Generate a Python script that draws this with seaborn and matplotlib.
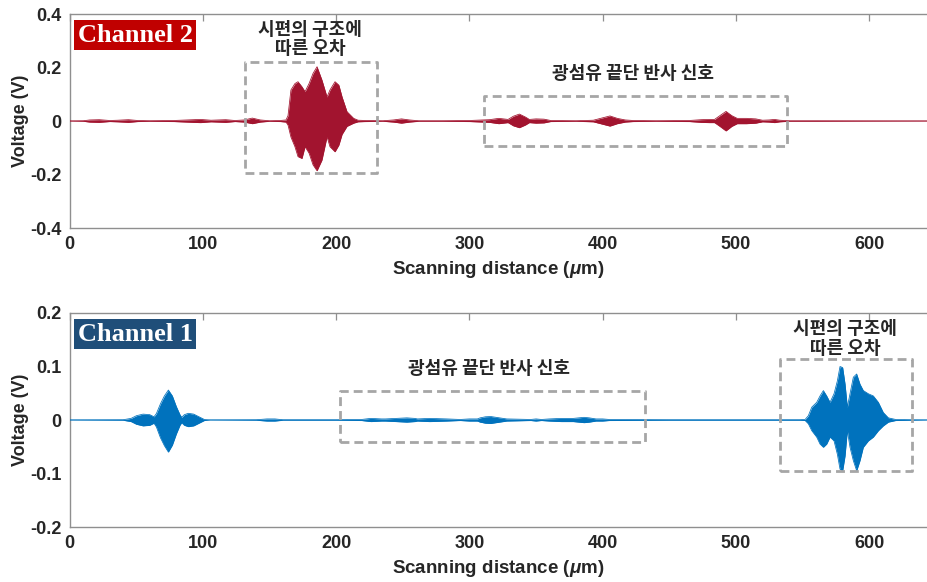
import matplotlib
matplotlib.use("Agg")
import matplotlib.pyplot as plt
from matplotlib.patches import Rectangle
import pandas as pd
import seaborn as sns

# ---------------- data: signal envelopes (V) vs scanning distance (um) ----------------
ch2_x = [0, 10, 15, 22, 30, 36, 44, 51, 60, 78, 88, 98, 106, 117, 124, 131, 137, 143, 150, 158,
         162.3, 163.8, 166.0, 169.0, 171.3, 174.3, 176.6, 179.6, 182.6, 185.6, 189.3, 193.1,
         195.3, 199.1, 202.0, 204.4, 208.1, 213.1, 216.4,
         222, 235, 243, 249, 255, 262, 280, 300, 315, 322, 329, 333, 337.5, 342, 345, 350, 356,
         361, 380, 393, 400, 405.5, 411, 417, 423, 440, 465, 474, 480, 484, 488, 492.6, 497, 501,
         508, 515, 520, 525, 529, 533, 540, 560, 600, 643.5]
ch2_upper = [0, 0.001, 0.004, 0.005, 0.002, 0.003, 0.005, 0.002, 0.001, 0.002, 0.004, 0.006,
             0.003, 0.005, 0.002, 0.004, 0.011, 0.004, 0.001, 0.002,
             0.004, 0.02, 0.116, 0.14, 0.147, 0.128, 0.11, 0.14, 0.178, 0.203, 0.153, 0.09,
             0.116, 0.147, 0.134, 0.09, 0.035, 0.01, 0.003,
             0.002, 0.001, 0.004, 0.008, 0.004, 0.001, 0.001, 0.002, 0.005, 0.01, 0.006, 0.018,
             0.026, 0.015, 0.006, 0.008, 0.007, 0.002, 0.001, 0.003, 0.012, 0.019, 0.01, 0.004,
             0.002, 0.001, 0.002, 0.005, 0.006, 0.006, 0.02, 0.036, 0.02, 0.01, 0.01, 0.008,
             0.003, 0.004, 0.006, 0.003, 0.001, 0.001, 0.0005, 0]
ch2_lower = [0, -0.001, -0.004, -0.005, -0.002, -0.003, -0.005, -0.002, -0.001, -0.002, -0.004,
             -0.006, -0.003, -0.005, -0.002, -0.004, -0.010, -0.004, -0.001, -0.002,
             -0.004, -0.015, -0.06, -0.096, -0.133, -0.14, -0.096, -0.12, -0.164, -0.186, -0.146,
             -0.059, -0.096, -0.115, -0.09, -0.05, -0.02, -0.008, -0.003,
             -0.002, -0.001, -0.004, -0.008, -0.004, -0.001, -0.001, -0.002, -0.005, -0.01,
             -0.006, -0.018, -0.025, -0.015, -0.006, -0.008, -0.007, -0.002, -0.001, -0.003,
             -0.012, -0.019, -0.01, -0.004, -0.002, -0.001, -0.002, -0.005, -0.006, -0.006,
             -0.02, -0.037, -0.02, -0.01, -0.01, -0.008, -0.003, -0.004, -0.006, -0.003, -0.001,
             -0.001, -0.0005, 0]

ch1_x = [0, 40, 46, 50, 55, 60, 63.2, 65, 68, 71, 74, 77, 80, 82.7, 84, 86, 89, 93, 97, 101,
         105, 140, 148, 154, 160, 200, 219, 226, 234, 237, 245, 253, 259, 261, 270, 283, 293,
         300, 306, 308, 312, 316, 320, 328, 346, 350, 354, 360, 369, 378, 382, 386, 390, 395,
         400, 405, 450, 548, 552, 554.4, 557, 560.7, 563.2, 565.7, 568.2, 570.7, 573.7, 576.2,
         578.2, 580.2, 582, 583.7, 585.7, 588.2, 590.7, 593.2, 595.7, 599.5, 603.2, 607, 610.7,
         614.5, 620, 643.5]
ch1_upper = [0, 0.0005, 0.003, 0.008, 0.011, 0.01, 0.006, 0.012, 0.03, 0.045, 0.056, 0.045,
             0.025, 0.01, 0.005, 0.01, 0.0125, 0.011, 0.006, 0.001,
             0, 0.0005, 0.002, 0.002, 0.0005, 0.0005, 0.001, 0.003, 0.002, 0.002, 0.003, 0.004,
             0.003, 0.002, 0.003, 0.002, 0.001,
             0.002, 0.002, 0.004, 0.006, 0.0065, 0.005, 0.002, 0.001, 0.002, 0.001, 0.002,
             0.003, 0.003, 0.004, 0.005, 0.004, 0.002,
             0.002, 0.001, 0.0005, 0.0005, 0.001, 0.008, 0.024, 0.033, 0.045, 0.055, 0.045,
             0.033, 0.049, 0.073, 0.10, 0.098, 0.067, 0.024, 0.049, 0.08, 0.086, 0.067, 0.055,
             0.049, 0.045, 0.033, 0.014, 0.004, 0.001, 0]
ch1_lower = [0, -0.0005, -0.003, -0.008, -0.011, -0.01, -0.006, -0.013, -0.033, -0.048, -0.06,
             -0.047, -0.026, -0.01, -0.005, -0.01, -0.0125, -0.011, -0.006, -0.001,
             0, -0.0005, -0.002, -0.002, -0.0005, -0.0005, -0.001, -0.003, -0.002, -0.002,
             -0.003, -0.004, -0.003, -0.002, -0.003, -0.002, -0.001,
             -0.002, -0.002, -0.004, -0.006, -0.0065, -0.005, -0.002, -0.001, -0.002, -0.001,
             -0.002, -0.003, -0.003, -0.004, -0.005, -0.004, -0.002,
             -0.002, -0.001, -0.0005, -0.0005, -0.001, -0.007, -0.02, -0.032, -0.045, -0.051,
             -0.045, -0.032, -0.039, -0.064, -0.092, -0.095, -0.067, -0.02, -0.051, -0.076,
             -0.095, -0.076, -0.051, -0.039, -0.032, -0.02, -0.011, -0.004, -0.001, 0]

ch2_yticks = [-0.4, -0.2, 0, 0.2, 0.4]
ch2_yticklabels = ["-0.4", "-0.2", "0", "0.2", "0.4"]
ch1_yticks = [-0.2, -0.1, 0, 0.1, 0.2]
ch1_yticklabels = ["-0.2", "-0.1", "0", "0.1", "0.2"]
x_ticks = [0, 100, 200, 300, 400, 500, 600]

# ---------------- style ----------------
sns.set_theme(style="white")
plt.rcParams["font.family"] = ["Liberation Sans", "Noto Sans CJK KR", "DejaVu Sans"]
plt.rcParams["font.weight"] = "bold"
plt.rcParams["axes.unicode_minus"] = False
plt.rcParams["mathtext.fontset"] = "custom"
plt.rcParams["mathtext.rm"] = "Liberation Sans:bold"
plt.rcParams["mathtext.it"] = "Liberation Sans:italic:bold"

TEXT = "#262626"
SPINE = "#8f8f8f"
BOX = "#a6a6a6"
RED = "#A2142F"
BLUE = "#0072BD"
KR = ["Noto Sans CJK KR", "DejaVu Sans"]

fig = plt.figure(figsize=(9.27, 5.82), dpi=100)
ax2 = fig.add_axes([0.0753, 0.6082, 0.9247, 0.3677])
ax1 = fig.add_axes([0.0753, 0.0945, 0.9247, 0.3677])


def draw_channel(ax, xs, up, lo, color, yticks, ylabels):
    df = pd.DataFrame({"x": xs, "upper": up, "lower": lo})
    ax.fill_between(df["x"], df["lower"], df["upper"], color=color, lw=0, zorder=3)
    sns.lineplot(data=df, x="x", y="upper", ax=ax, color=color, lw=0.55,
                 estimator=None, sort=False, zorder=4)
    sns.lineplot(data=df, x="x", y="lower", ax=ax, color=color, lw=0.55,
                 estimator=None, sort=False, zorder=4)
    ax.set_xlim(0, 643.5)
    ax.set_ylim(yticks[0], yticks[-1])
    ax.set_xticks(x_ticks)
    ax.set_xticklabels([str(t) for t in x_ticks])
    ax.set_yticks(yticks)
    ax.set_yticklabels(ylabels)
    ax.tick_params(direction="in", top=True, right=False, length=5, width=0.9,
                   color=SPINE, labelsize=13, labelcolor=TEXT, pad=6)
    for s in ("top", "left", "bottom"):
        ax.spines[s].set_color(SPINE)
        ax.spines[s].set_linewidth(1.0)
    ax.spines["right"].set_visible(False)
    ax.set_xlabel(r"Scanning distance ($\mu$m)", fontsize=13.5, color=TEXT,
                  fontweight="bold", labelpad=4)
    ax.set_ylabel("Voltage (V)", fontsize=13, color=TEXT, fontweight="bold", labelpad=1)
    ax.grid(False)


def dashed_box(ax, x0, x1, y0, y1):
    ax.add_patch(Rectangle((x0, y0), x1 - x0, y1 - y0, fill=False, ec=BOX, lw=2.0,
                           ls=(0, (3.2, 1.8)), joinstyle="round", zorder=5))


draw_channel(ax2, ch2_x, ch2_upper, ch2_lower, RED, ch2_yticks, ch2_yticklabels)
draw_channel(ax1, ch1_x, ch1_upper, ch1_lower, BLUE, ch1_yticks, ch1_yticklabels)

# annotation boxes and captions
dashed_box(ax2, 131.5, 230.6, -0.194, 0.22)
dashed_box(ax2, 311, 538.5, -0.093, 0.093)
dashed_box(ax1, 202.8, 431.8, -0.041, 0.054)
dashed_box(ax1, 533, 632, -0.095, 0.114)

ax2.text(180.3, 0.307, "시편의 구조에\n따른 오차", family=KR, fontweight="bold",
         fontsize=13, color=TEXT, ha="center", va="center", linespacing=1.05)
ax2.text(422.8, 0.179, "광섬유 끝단 반사 신호", family=KR, fontweight="bold",
         fontsize=13, color=TEXT, ha="center", va="center")
ax1.text(314.7, 0.096, "광섬유 끝단 반사 신호", family=KR, fontweight="bold",
         fontsize=13, color=TEXT, ha="center", va="center")
ax1.text(582, 0.152, "시편의 구조에\n따른 오차", family=KR, fontweight="bold",
         fontsize=13, color=TEXT, ha="center", va="center", linespacing=1.05)

# channel tags
for ax, label, bg in ((ax2, "Channel 2", "#C00000"), (ax1, "Channel 1", "#1F4E79")):
    ax.text(0.009, 0.955, label, transform=ax.transAxes, ha="left", va="top",
            fontsize=19, family="Liberation Serif", fontweight="bold", color="white",
            bbox=dict(boxstyle="square,pad=0.14", fc=bg, ec="none"), zorder=6)

fig.savefig("out.png", dpi=100)
